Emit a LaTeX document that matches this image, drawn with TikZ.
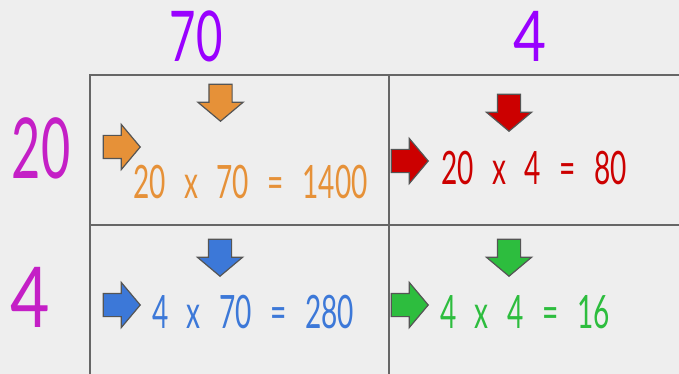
\documentclass[tikz,border=0pt]{standalone}
\usepackage{xcolor}
\usepackage{fontspec}
\setmainfont{Lato}
\usepackage{tikz}
\usetikzlibrary{shapes.arrows, positioning}

\definecolor{bgGray}{HTML}{EEEEEE}
\definecolor{lineGray}{HTML}{666666}
\definecolor{edgeGray}{HTML}{555555}
\definecolor{topPurple}{HTML}{9900FF}
\definecolor{sideMagenta}{HTML}{C41FC6}
\definecolor{prodOrange}{HTML}{E69138}
\definecolor{prodRed}{HTML}{CC0000}
\definecolor{prodBlue}{HTML}{3C78D8}
\definecolor{prodGreen}{HTML}{2DBD3E}

\newcommand{\prodfont}{\fontsize{46}{46}\selectfont\spaceskip 0.66em\relax}

\begin{document}
\begin{tikzpicture}[
    x=1pt, y=-1pt,
    gridline/.style={draw=lineGray, line width=1.6pt},
    factor/.style={font=\fontsize{70}{70}\selectfont, inner sep=0pt, xscale=0.65, transform shape},
    sidefactor/.style={font=\fontsize{84}{84}\selectfont, inner sep=0pt, xscale=0.6, transform shape},
    product/.style={font=\prodfont, inner sep=0pt, anchor=west, xscale=0.61, transform shape},
    hint/.style={single arrow, draw=edgeGray, line width=1.2pt, minimum height=37pt,
        inner xsep=0pt, inner ysep=11pt, single arrow head extend=11pt, single arrow tip angle=100, anchor=tip}
]
\fill[bgGray] (0,0) rectangle (679,374);
\useasboundingbox (0,0) rectangle (679,374);

% the grid
\draw[gridline] (679,75) -- (90,75) -- (90,374);
\draw[gridline] (90,225) -- (679,225);
\draw[gridline] (389,75) -- (389,374);

% the factors
\node[factor, text=topPurple] (tens) at (196,36) {70};
\node[factor, text=topPurple, xscale=1.25] (ones) at (530,36) {4};
\node[sidefactor, text=sideMagenta] (rtens) at (41,148) {20};
\node[sidefactor, text=sideMagenta, xscale=1.35] (rones) at (30,297) {4};

% arrows into each cell
\node[hint, fill=prodOrange, rotate=-90] (oDown) at (220.5,122) {};
\node[hint, fill=prodOrange] (oRight) at (141,147) {};
\node[hint, fill=prodRed, rotate=-90] (rDown) at (509,132) {};
\node[hint, fill=prodRed] (rRight) at (429,161) {};
\node[hint, fill=prodBlue, rotate=-90] (bDown) at (220,277) {};
\node[hint, fill=prodBlue] (bRight) at (141,305) {};
\node[hint, fill=prodGreen, rotate=-90] (gDown) at (509,277) {};
\node[hint, fill=prodGreen] (gRight) at (429,305) {};

% the partial products
\node[product, text=prodOrange] (oProd) at (133,182) {20 x 70 = 1400};
\node[product, text=prodRed] (rProd) at (441,168) {20 x 4 = 80};
\node[product, text=prodBlue] (bProd) at (152,312) {4 x 70 = 280};
\node[product, text=prodGreen] (gProd) at (440,312) {4 x 4 = 16};
\end{tikzpicture}
\end{document}
